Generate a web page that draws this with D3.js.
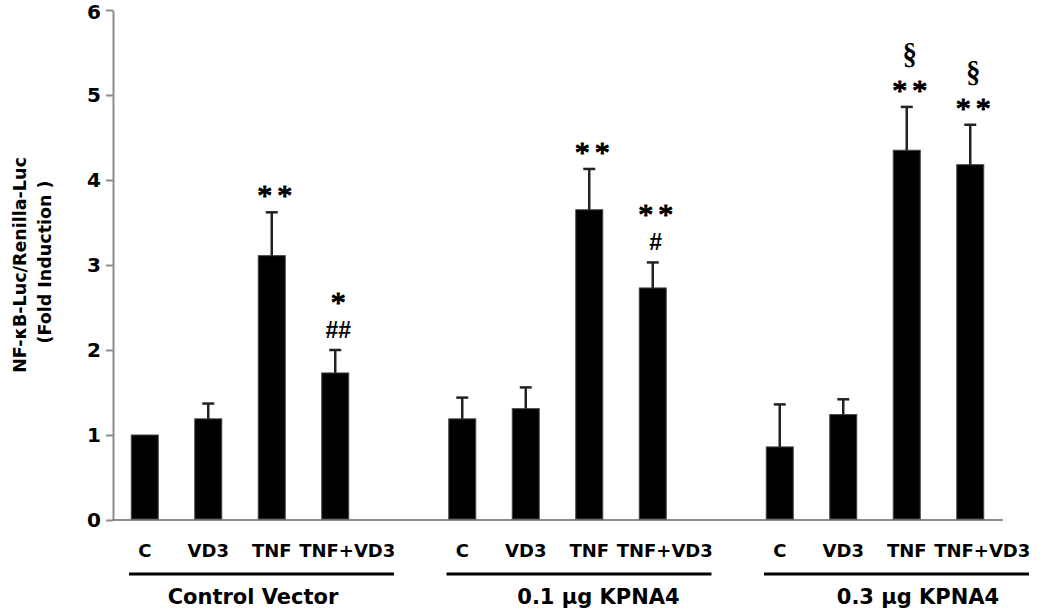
<!DOCTYPE html>
<html>
<head>
<meta charset="utf-8">
<script src="https://cdn.jsdelivr.net/npm/d3@7"></script>
<style>
  body { margin: 0; background: #fff; }
  svg { display: block; }
</style>
</head>
<body>
<svg id="chart" width="1050" height="614"></svg>
<script>
// data
var groups = ["Control Vector", "0.1 \u03bcg KPNA4", "0.3 \u03bcg KPNA4"];
var conditions = ["C", "VD3", "TNF", "TNF+VD3"];

var meanControl = [1.00, 1.19, 3.11, 1.73];
var meanK01     = [1.19, 1.31, 3.65, 2.73];
var meanK03     = [0.86, 1.24, 4.35, 4.18];

var errControl = [0.00, 0.18, 0.51, 0.27];
var errK01     = [0.25, 0.25, 0.48, 0.30];
var errK03     = [0.50, 0.18, 0.51, 0.47];

// significance marks, listed bottom to top
var marksControl = [[], [], ["**"], ["##", "*"]];
var marksK01     = [[], [], ["**"], ["#", "**"]];
var marksK03     = [[], [], ["**", "\u00a7"], ["**", "\u00a7"]];

var yTicks = [0, 1, 2, 3, 4, 5, 6];

var means = [meanControl, meanK01, meanK03],
    errs = [errControl, errK01, errK03],
    marks = [marksControl, marksK01, marksK03];

var rows = [];
groups.forEach(function(g, gi) {
  conditions.forEach(function(c, ci) {
    rows.push({group: g, cond: c, value: means[gi][ci], err: errs[gi][ci], marks: marks[gi][ci]});
  });
});

var canvas = d3.select("#chart");

var x0 = d3.scaleBand().domain(groups).range([113, 1002]).paddingInner(0.2);
var x1 = d3.scaleBand().domain(conditions).range([0, x0.bandwidth()])
    .paddingInner(0.575).paddingOuter(0.2875);
var y = d3.scaleLinear().domain([0, 6]).range([520, 10]);

function cx(d) { return x0(d.group) + x1(d.cond) + x1.bandwidth() / 2; }

// y axis
var yAxis = canvas.append("g")
    .attr("transform", "translate(113,0)")
    .call(d3.axisLeft(y).tickValues(yTicks).tickFormat(d3.format("d"))
      .tickSize(7).tickSizeOuter(0).tickPadding(5));
yAxis.select(".domain").attr("stroke", "#8c8c8c").attr("stroke-width", 2);
yAxis.selectAll(".tick line").attr("stroke", "#8c8c8c").attr("stroke-width", 2);
yAxis.selectAll(".tick text")
    .style("font-family", "DejaVu Sans")
    .style("font-weight", "bold")
    .style("font-size", "20px")
    .attr("dy", function(d) { return d === 6 ? "0.42em" : "0.32em"; })
    .attr("fill", "#000");

// baseline
canvas.append("line")
    .attr("x1", 112).attr("x2", 1003)
    .attr("y1", y(0)).attr("y2", y(0))
    .attr("stroke", "#8c8c8c").attr("stroke-width", 2);

// bars
canvas.selectAll("rect.bar")
  .data(rows)
  .enter().append("rect")
    .attr("class", "bar")
    .attr("x", function(d) { return x0(d.group) + x1(d.cond); })
    .attr("width", x1.bandwidth())
    .attr("y", function(d) { return y(d.value); })
    .attr("height", function(d) { return y(0) - y(d.value) - 1; })
    .attr("fill", "#000")
    .attr("stroke", "#444")
    .attr("stroke-width", 1);

// error bars (upper only)
var eb = canvas.selectAll("g.err")
  .data(rows.filter(function(d) { return d.err > 0; }))
  .enter().append("g").attr("class", "err");
eb.append("line")
    .attr("x1", cx).attr("x2", cx)
    .attr("y1", function(d) { return y(d.value); })
    .attr("y2", function(d) { return y(d.value + d.err); })
    .attr("stroke", "#222").attr("stroke-width", 2.5);
eb.append("line")
    .attr("x1", function(d) { return cx(d) - 6; })
    .attr("x2", function(d) { return cx(d) + 6; })
    .attr("y1", function(d) { return y(d.value + d.err); })
    .attr("y2", function(d) { return y(d.value + d.err); })
    .attr("stroke", "#222").attr("stroke-width", 2.5);

// significance marks
var markStyle = {
  "*":  {font: "Liberation Serif", size: 30, weight: "normal", spacing: 5, dy: 15, stroke: 1.1, lift: 22},
  "**": {font: "Liberation Serif", size: 30, weight: "normal", spacing: 5, dy: 15, stroke: 1.1, lift: 22},
  "#":  {font: "Liberation Sans", size: 23, weight: "bold", spacing: 0, dy: 8, stroke: 0, lift: 20},
  "##": {font: "Liberation Sans", size: 23, weight: "bold", spacing: 0, dy: 8, stroke: 0, lift: 20},
  "\u00a7": {font: "Liberation Serif", size: 29, weight: "bold", spacing: 0, dy: 8, stroke: 0, lift: 0}
};
rows.filter(function(d) { return d.marks.length; }).forEach(function(d) {
  var yc = y(d.value + d.err) - markStyle[d.marks[0]].lift;
  d.marks.forEach(function(m, i) {
    var s = markStyle[m];
    if (i > 0) yc -= (d.marks[i - 1].charAt(0) === "#") ? 33.5 : 29;
    canvas.append("text")
        .attr("x", cx(d) + 3 + s.spacing / 2)
        .attr("y", yc + s.dy)
        .attr("text-anchor", "middle")
        .style("font-family", s.font)
        .style("font-size", s.size + "px")
        .style("font-weight", s.weight)
        .style("letter-spacing", s.spacing + "px")
        .attr("stroke", s.stroke ? "#000" : "none")
        .attr("stroke-width", s.stroke)
        .attr("stroke-linejoin", "round")
        .text(m);
  });
});

// category labels
canvas.selectAll("text.cat")
  .data(rows)
  .enter().append("text")
    .attr("class", "cat")
    .attr("x", function(d) { return cx(d) + (d.cond === "TNF+VD3" ? 12 : 0); })
    .attr("y", 557)
    .attr("text-anchor", "middle")
    .style("font-family", "DejaVu Sans")
    .style("font-weight", "bold")
    .style("font-size", "18px")
    .text(function(d) { return d.cond; });

// group underlines and names
var labelShift = [13, 41, 43];
groups.forEach(function(g, gi) {
  var a = x0(g), b = a + x0.bandwidth();
  canvas.append("line")
      .attr("x1", a + 16).attr("x2", b + 27)
      .attr("y1", 574).attr("y2", 574)
      .attr("stroke", "#000").attr("stroke-width", 3);
  canvas.append("text")
      .attr("x", (a + b) / 2 + labelShift[gi])
      .attr("y", 604)
      .attr("text-anchor", "middle")
      .style("font-family", "DejaVu Sans")
      .style("font-weight", "bold")
      .style("font-size", "21px")
      .text(g);
});

// y axis title
var title = canvas.append("g")
    .style("font-family", "DejaVu Sans")
    .style("font-weight", "bold")
    .style("font-size", "17.5px")
    .attr("text-anchor", "middle");
title.append("text")
    .attr("transform", "translate(26,265) rotate(-90)")
    .text("NF-\u03baB-Luc/Renilla-Luc");
title.append("text")
    .attr("transform", "translate(51,262) rotate(-90)")
    .text("(Fold Induction )");
</script>
</body>
</html>
